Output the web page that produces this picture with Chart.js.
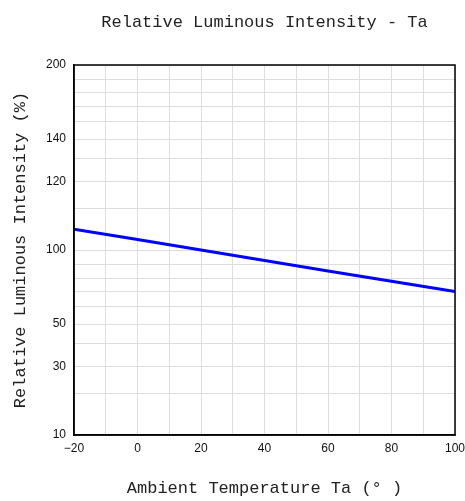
<!DOCTYPE html>
<html>
<head>
<meta charset="utf-8">
<script src="https://cdn.jsdelivr.net/npm/chart.js@4"></script>
<style>
  html, body { margin: 0; padding: 0; background: #fff; }
  #wrap { width: 465px; height: 501px; }
</style>
</head>
<body>
<div id="wrap"><canvas id="chart" width="465" height="501"></canvas></div>
<script>
// Ambient temperature (°C) and relative luminous intensity (%)
const temps = [-20, 0, 20, 40, 60, 80, 100];
const intensity = [105, 102.5, 100, 92.6, 85.2, 77.8, 70];

// y axis is not linear: gridline values and where each sits (0 = bottom, 2 = top)
const yGridVals = [10, 20, 30, 40, 50, 60, 70, 80, 90, 100, 110, 120, 130, 140, 150, 160, 170, 180, 200];
const yGridPos = [0, .225, .369, .496, .6, .694, .775, .847, .924, 1,
                  1.225, 1.369, 1.496, 1.6, 1.694, 1.775, 1.852, 1.924, 2];
const yLabels = [10, 30, 50, 100, 120, 140, 200];

// map a % value onto the axis position
function toPos(v) {
  for (let i = 0; i < yGridVals.length - 1; i++) {
    const a = yGridVals[i], b = yGridVals[i + 1];
    if (v >= a && v <= b) {
      return yGridPos[i] + (v - a) / (b - a) * (yGridPos[i + 1] - yGridPos[i]);
    }
  }
  return v < yGridVals[0] ? 0 : 2;
}

const titleFont = { family: "'Liberation Mono', 'DejaVu Sans Mono', monospace", size: 17, weight: "normal" };
const tickFont = { family: "'Liberation Sans', Arial, sans-serif", size: 12 };

// full black frame round the plot area
const framePlugin = {
  id: "frame",
  afterDraw(chart) {
    const { ctx, chartArea: a } = chart;
    ctx.save();
    ctx.strokeStyle = "#000";
    ctx.lineWidth = 1.5;
    ctx.strokeRect(a.left, a.top, a.right - a.left, a.bottom - a.top);
    ctx.restore();
  }
};

new Chart(document.getElementById("chart"), {
  type: "line",
  data: {
    datasets: [{
      data: temps.map((t, i) => ({ x: t, y: toPos(intensity[i]) })),
      borderColor: "#0000ff",
      borderWidth: 3,
      pointRadius: 0,
      tension: 0,
      fill: false
    }]
  },
  options: {
    responsive: false,
    animation: false,
    layout: { padding: { left: 0, right: 10, top: 0, bottom: 0 } },
    plugins: {
      legend: { display: false },
      tooltip: { enabled: false },
      title: { display: false }
    },
    scales: {
      // top axis only carries the chart title, centred over the plot
      top: {
        type: "linear",
        position: "top",
        min: -20,
        max: 100,
        afterFit(scale) {
          scale.height = 65;
          scale.paddingLeft = 0;
          scale.paddingRight = 0;
        },
        ticks: { display: false },
        grid: { display: false },
        border: { display: false },
        title: {
          display: true,
          text: "Relative Luminous Intensity - Ta",
          color: "#222",
          font: titleFont,
          padding: { top: 12, bottom: 0 }
        }
      },
      x: {
        type: "linear",
        min: -20,
        max: 100,
        afterFit(scale) {
          scale.height = 66;
          scale.paddingLeft = 0;
          scale.paddingRight = 0;
        },
        ticks: {
          stepSize: 10,
          autoSkip: false,
          maxRotation: 0,
          color: "#111",
          font: tickFont,
          padding: 6,
          callback: v => (v % 20 === 0 ? (v < 0 ? "\u2212" + Math.abs(v) : String(v)) : "")
        },
        grid: { color: "#dddddd", lineWidth: 1, drawTicks: false },
        border: { color: "#000", width: 1.5 },
        title: {
          display: true,
          text: "Ambient Temperature Ta (° )",
          color: "#222",
          font: titleFont,
          padding: { top: 0, bottom: 2 }
        }
      },
      y: {
        type: "linear",
        min: 0,
        max: 2,
        afterFit(scale) { scale.width = 74; },
        afterBuildTicks(scale) {
          scale.ticks = yGridPos.map(p => ({ value: p }));
        },
        ticks: {
          autoSkip: false,
          color: "#111",
          font: tickFont,
          padding: 8,
          callback: function (v) {
            const i = yGridPos.indexOf(v);
            return i >= 0 && yLabels.includes(yGridVals[i]) ? String(yGridVals[i]) : "";
          }
        },
        grid: { color: "#dddddd", lineWidth: 1, drawTicks: false },
        border: { color: "#000", width: 1.5 },
        title: {
          display: true,
          text: "Relative Luminous Intensity (%)",
          color: "#222",
          font: titleFont,
          padding: { top: 10, bottom: 0 }
        }
      }
    }
  },
  plugins: [framePlugin]
});
</script>
</body>
</html>
